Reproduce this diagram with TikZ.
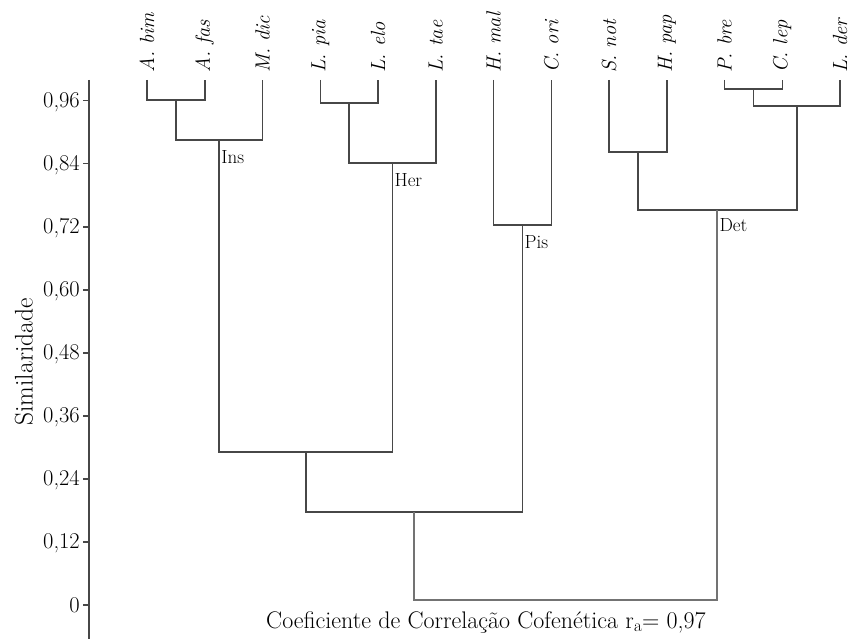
\documentclass[tikz,border=0pt]{standalone}
\usetikzlibrary{positioning}

\tikzset{
  branch/.style={draw=black!72, line width=1.5pt},
  rootbranch/.style={draw=black!55, line width=2.2pt},
  leaf/.style={rotate=90, anchor=west, inner sep=0pt, font=\fontsize{20.5}{24}\selectfont\itshape},
  grp/.style={anchor=north west, inner sep=1pt, font=\fontsize{19}{22}\selectfont},
  ticklab/.style={anchor=base east, inner sep=0pt, font=\fontsize{22.5}{26}\selectfont},
}

\begin{document}
\begin{tikzpicture}[x=1pt, y=-1pt]
    \useasboundingbox (0,0) rectangle (850,639);

    % axis
    \draw[branch] (89,80) -- (89,639);
    \foreach \i/\t in {0/0, 1/{0,12}, 2/{0,24}, 3/{0,36}, 4/{0,48}, 5/{0,60}, 6/{0,72}, 7/{0,84}, 8/{0,96}} {
        \pgfmathsetmacro{\yy}{605-\i*63.04}
        \coordinate (tk\i) at (89,\yy);
        \draw[branch] (tk\i) -- ++(-6,0);
        \node[ticklab] (tl\i) at (80,\yy+7) {\t};
    }
    \node[rotate=90, font=\fontsize{25.5}{30}\selectfont] (ylab) at (24,362) {Similaridade};

    % leaves
    \foreach \n/\t [count=\i] in {bim/A. bim, fas/A. fas, dic/M. dic, pia/L. pia, elo/L. elo, tae/L. tae,
        mal/H. mal, ori/C. ori, not/S. not, pap/H. pap, bre/P. bre, lep/C. lep, der/L. der} {
        \pgfmathsetmacro{\xx}{147+(\i-1)*57.75}
        \coordinate (\n) at (\xx,80);
        \node[leaf] (t\n) at (\xx,73) {\t};
    }

    % merges
    \coordinate (bf) at (175.9,100);
    \coordinate (ins) at (219.2,140);
    \coordinate (pe) at (349.1,103);
    \coordinate (her) at (392.4,163);
    \coordinate (pis) at (522.4,225);
    \coordinate (sh) at (637.9,152);
    \coordinate (pc) at (753.4,89);
    \coordinate (pcl) at (796.8,106);
    \coordinate (det) at (717.3,210);
    \coordinate (ih) at (305.8,452);
    \coordinate (ihp) at (414.1,512);
    \coordinate (root) at (565.7,600);

    \draw[branch] (bim) |- (bf) -| (fas);
    \draw[branch] (bf) |- (ins) -| (dic);
    \draw[branch] (pia) |- (pe) -| (elo);
    \draw[branch] (pe) |- (her) -| (tae);
    \draw[branch] (mal) |- (pis) -| (ori);
    \draw[branch] (not) |- (sh) -| (pap);
    \draw[branch] (bre) |- (pc) -| (lep);
    \draw[branch] (pc) |- (pcl) -| (der);
    \draw[branch] (sh) |- (det) -| (pcl);
    \draw[branch] (ins) |- (ih) -| (her);
    \draw[branch] (ih) |- (ihp) -| (pis);
    \draw[rootbranch] (ihp) |- (root) -| (det);

    % group labels
    \node[grp] (insl) at ([xshift=1pt,yshift=-9pt]ins) {Ins};
    \node[grp] (herl) at ([xshift=1pt,yshift=-9pt]her) {Her};
    \node[grp] (pisl) at ([xshift=1pt,yshift=-9pt]pis) {Pis};
    \node[grp] (detl) at ([xshift=1pt,yshift=-7pt]det) {Det};

    \node[font=\fontsize{24}{28}\selectfont] (cof) at (486,622) {Coeficiente de Correlação Cofenética r$_{\mathrm{a}}$= 0,97};
\end{tikzpicture}
\end{document}
